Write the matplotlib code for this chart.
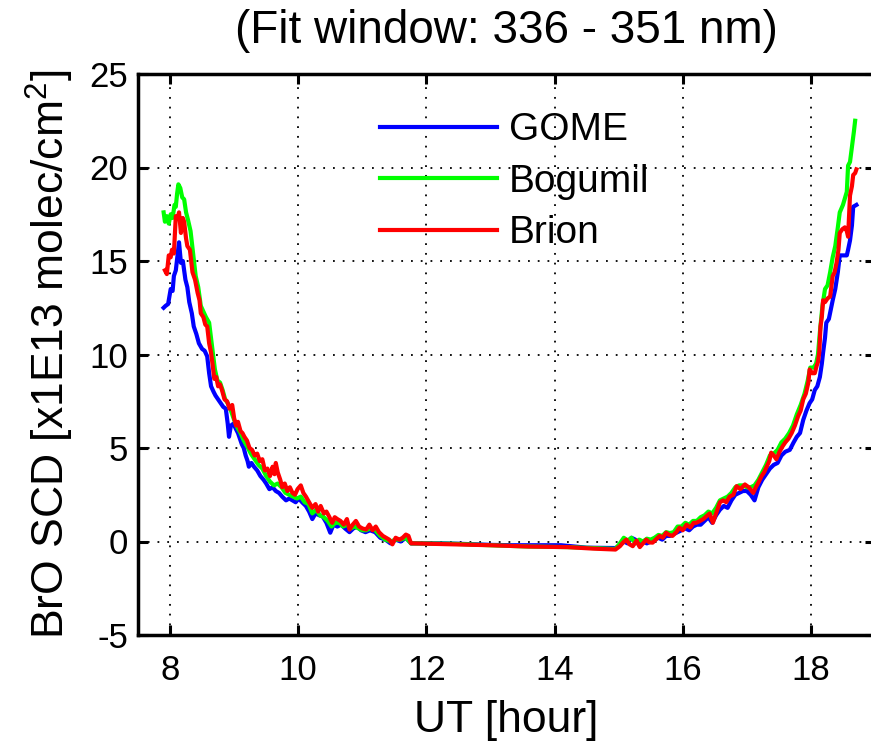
import numpy as np
import matplotlib
matplotlib.use("Agg")
import matplotlib.pyplot as plt

plt.rcParams['font.family'] = ['Liberation Sans', 'DejaVu Sans']
plt.rcParams['mathtext.fontset'] = 'custom'
plt.rcParams['mathtext.rm'] = 'Liberation Sans'
plt.rcParams['axes.unicode_minus'] = False

# --- slant column densities [x1E13 molec/cm2] vs UT [hour] ---
t_gome = [7.90, 7.93, 7.97, 7.99, 8.01, 8.04, 8.06, 8.09, 8.12, 8.14, 8.17, 8.20, 8.24, 8.27,
          8.30, 8.34, 8.37, 8.41, 8.45, 8.50, 8.54, 8.58, 8.61, 8.64, 8.68, 8.71, 8.75, 8.79,
          8.83, 8.87, 8.90, 8.92, 8.95, 8.99, 9.03, 9.06, 9.08, 9.12, 9.15, 9.18, 9.21, 9.23,
          9.27, 9.31, 9.36, 9.41, 9.46, 9.50, 9.55, 9.60, 9.65, 9.70, 9.75, 9.81, 9.86, 9.91,
          9.96, 10.01, 10.06, 10.12, 10.17, 10.22, 10.27, 10.33, 10.38, 10.44, 10.50, 10.55,
          10.61, 10.67, 10.73, 10.80, 10.86, 10.92, 10.98, 11.05, 11.12, 11.20, 11.28, 11.36,
          11.44, 11.52, 11.60, 11.68, 11.76, 12.25, 12.50, 13.00, 13.35, 14.10, 14.50, 14.95,
          15.02, 15.08, 15.14, 15.20, 15.26, 15.32, 15.38, 15.44, 15.50, 15.56, 15.62, 15.68,
          15.74, 15.80, 15.86, 15.92, 15.98, 16.04, 16.10, 16.16, 16.22, 16.28, 16.34, 16.40,
          16.46, 16.52, 16.58, 16.64, 16.70, 16.76, 16.82, 16.88, 16.94, 17.00, 17.06, 17.12,
          17.18, 17.24, 17.30, 17.36, 17.42, 17.48, 17.54, 17.60, 17.67, 17.73, 17.78, 17.83,
          17.88, 17.93, 17.98, 18.02, 18.06, 18.10, 18.14, 18.17, 18.19, 18.22, 18.24, 18.28,
          18.31, 18.34, 18.38, 18.42, 18.45, 18.50, 18.56, 18.58, 18.61, 18.64, 18.66, 18.71]
scd_gome = [12.5, 12.6, 12.7, 13.1, 13.5, 13.4, 14.2, 14.5, 15.4, 16.0, 14.9, 15.0, 14.0, 13.6,
            12.8, 12.2, 11.5, 11.1, 10.6, 10.3, 10.2, 9.9, 9.0, 8.3, 8.0, 7.8, 7.6, 7.4,
            7.2, 7.1, 6.3, 5.6, 6.2, 6.3, 6.0, 5.8, 5.6, 5.2, 5.0, 4.6, 4.3, 4.0,
            4.2, 4.0, 3.8, 3.5, 3.3, 3.1, 2.8, 2.9, 2.7, 2.6, 2.4, 2.2, 2.3, 2.2,
            2.1, 2.3, 2.1, 1.9, 1.6, 1.2, 1.5, 1.4, 1.35, 1.0, 0.47, 0.9,
            0.8, 0.9, 0.7, 0.5, 0.7, 0.8, 0.6, 0.5, 0.6, 0.5, 0.2, 0.1,
            -0.1, 0.1, 0.0, 0.2, -0.1, -0.1, -0.12, -0.18, -0.2, -0.2, -0.33, -0.35,
            -0.2, 0.0, -0.1, 0.2, 0.1, -0.2, 0.0, -0.1, 0.0, 0.1, 0.2, 0.1,
            0.3, 0.3, 0.4, 0.5, 0.6, 0.7, 0.6, 0.8, 0.9, 0.9, 1.1, 1.3,
            1.0, 1.4, 1.7, 1.9, 1.8, 2.2, 2.5, 2.6, 2.7, 2.7, 2.5, 2.2,
            2.9, 3.3, 3.6, 3.9, 4.1, 4.2, 4.6, 4.8, 4.9, 5.3, 5.6, 5.8,
            6.5, 7.0, 7.4, 7.6, 8.1, 8.3, 8.8, 9.5, 10.1, 10.9, 11.7, 11.9,
            12.4, 12.9, 13.5, 14.4, 15.3, 15.3, 15.3, 15.6, 16.1, 16.9, 17.9, 18.0]

t_bogumil = [7.90, 7.92, 7.95, 7.98, 8.01, 8.04, 8.07, 8.09, 8.11, 8.13, 8.16, 8.19, 8.22, 8.25,
             8.28, 8.32, 8.36, 8.40, 8.44, 8.48, 8.52, 8.56, 8.61, 8.66, 8.70, 8.74, 8.78, 8.82,
             8.86, 8.90, 8.95, 9.00, 9.05, 9.10, 9.15, 9.20, 9.26, 9.32, 9.38, 9.44, 9.50, 9.56,
             9.62, 9.68, 9.74, 9.80, 9.86, 9.92, 9.98, 10.04, 10.10, 10.16, 10.22, 10.28, 10.34,
             10.40, 10.46, 10.52, 10.58, 10.64, 10.70, 10.76, 10.82, 10.88, 10.94, 11.00, 11.06,
             11.12, 11.20, 11.28, 11.36, 11.44, 11.52, 11.60, 11.68, 11.76, 12.40, 13.00, 13.60,
             14.20, 14.60, 14.95, 15.02, 15.08, 15.14, 15.20, 15.26, 15.32, 15.38, 15.44, 15.50,
             15.56, 15.62, 15.68, 15.74, 15.80, 15.86, 15.92, 15.98, 16.04, 16.10, 16.16, 16.22,
             16.28, 16.34, 16.40, 16.46, 16.52, 16.58, 16.64, 16.70, 16.76, 16.82, 16.88, 16.94,
             17.00, 17.06, 17.12, 17.18, 17.24, 17.30, 17.36, 17.42, 17.48, 17.54, 17.60, 17.66,
             17.72, 17.78, 17.84, 17.90, 17.95, 17.99, 18.04, 18.08, 18.11, 18.14, 18.18, 18.22,
             18.26, 18.30, 18.34, 18.38, 18.42, 18.45, 18.50, 18.56, 18.58, 18.61, 18.64, 18.67,
             18.69]
scd_bogumil = [17.6, 17.1, 17.4, 17.0, 17.5, 17.3, 18.0, 17.9, 18.6, 19.1, 18.9, 18.4, 18.3, 17.6,
               17.2, 16.6, 15.4, 14.2, 13.6, 12.6, 12.3, 12.0, 11.7, 10.3, 9.2, 8.6, 8.5, 8.1,
               7.6, 7.4, 7.0, 6.5, 6.1, 5.8, 5.4, 5.1, 4.7, 4.4, 4.1, 3.9, 3.5, 3.2,
               3.0, 3.1, 2.9, 2.6, 2.5, 2.4, 2.3, 2.4, 2.1, 2.0, 1.5, 1.7, 1.4,
               1.3, 1.1, 0.8, 1.0, 1.0, 0.8, 0.9, 0.7, 0.8, 0.7, 0.6, 0.6,
               0.7, 0.6, 0.3, 0.1, 0.0, 0.1, 0.1, 0.2, -0.1, -0.12, -0.2, -0.27,
               -0.3, -0.35, -0.4, -0.1, 0.2, 0.05, 0.2, -0.1, 0.1, 0.0, 0.15, 0.1,
               0.2, 0.35, 0.3, 0.5, 0.45, 0.5, 0.8, 0.8, 1.0, 0.9, 1.1, 1.1,
               1.3, 1.4, 1.6, 1.5, 1.8, 2.2, 2.3, 2.4, 2.6, 2.9, 3.0, 3.0,
               2.9, 2.9, 3.0, 3.3, 3.7, 4.1, 4.6, 4.7, 4.9, 5.3, 5.5, 5.8,
               6.2, 6.8, 7.3, 7.9, 8.6, 9.3, 9.3, 9.5, 10.0, 11.2, 12.6, 13.5,
               13.7, 14.4, 15.2, 15.8, 16.8, 17.6, 18.0, 18.7, 20.1, 20.3, 21.1, 21.9,
               22.5]

t_brion = [7.92, 7.95, 7.98, 8.01, 8.03, 8.06, 8.09, 8.12, 8.14, 8.17, 8.20, 8.22, 8.25, 8.27,
           8.31, 8.35, 8.39, 8.43, 8.46, 8.48, 8.52, 8.55, 8.58, 8.61, 8.64, 8.67, 8.69, 8.72,
           8.75, 8.78, 8.81, 8.85, 8.89, 8.93, 8.97, 9.00, 9.03, 9.06, 9.10, 9.13, 9.16, 9.20,
           9.24, 9.28, 9.32, 9.36, 9.40, 9.44, 9.48, 9.52, 9.56, 9.60, 9.63, 9.65, 9.68, 9.72,
           9.75, 9.79, 9.83, 9.87, 9.91, 9.95, 9.99, 10.04, 10.08, 10.12, 10.17, 10.22, 10.27,
           10.31, 10.35, 10.40, 10.44, 10.48, 10.53, 10.57, 10.61, 10.66, 10.71, 10.76, 10.80,
           10.85, 10.90, 10.95, 11.00, 11.06, 11.11, 11.16, 11.21, 11.26, 11.32, 11.37, 11.42,
           11.47, 11.52, 11.58, 11.63, 11.68, 11.72, 11.76, 11.80, 12.40, 13.00, 13.60, 14.20,
           14.60, 14.95, 15.02, 15.07, 15.12, 15.17, 15.22, 15.28, 15.33, 15.38, 15.43, 15.48,
           15.53, 15.58, 15.64, 15.69, 15.74, 15.79, 15.84, 15.90, 15.95, 16.00, 16.06, 16.12,
           16.17, 16.21, 16.27, 16.32, 16.37, 16.42, 16.47, 16.53, 16.58, 16.63, 16.68, 16.73,
           16.79, 16.84, 16.90, 16.97, 17.03, 17.10, 17.14, 17.18, 17.23, 17.27, 17.31, 17.35,
           17.38, 17.42, 17.46, 17.51, 17.56, 17.60, 17.65, 17.70, 17.75, 17.80, 17.84, 17.88,
           17.92, 17.96, 17.98, 18.02, 18.06, 18.09, 18.11, 18.13, 18.15, 18.17, 18.19, 18.22,
           18.26, 18.30, 18.34, 18.37, 18.40, 18.43, 18.45, 18.49, 18.53, 18.56, 18.58, 18.61,
           18.64, 18.66, 18.69, 18.71]
scd_brion = [14.5, 14.3, 15.3, 15.2, 15.6, 15.4, 17.4, 17.3, 17.6, 16.5, 17.3, 17.1, 16.2, 15.8,
             15.6, 14.4, 14.0, 13.3, 12.9, 12.2, 12.0, 11.6, 11.5, 10.6, 10.1, 9.3, 8.7, 8.8,
             8.3, 8.4, 8.1, 7.6, 7.5, 7.1, 7.3, 6.6, 6.2, 6.4, 5.9, 5.8, 5.6, 5.4,
             5.0, 4.9, 4.6, 4.7, 4.3, 4.4, 3.8, 3.9, 3.5, 4.0, 3.6, 4.2, 3.7, 3.3,
             2.9, 3.1, 2.7, 2.9, 2.6, 2.5, 2.8, 3.0, 2.6, 2.4, 2.1, 1.8, 2.0,
             1.6, 1.9, 1.5, 1.6, 1.35, 1.0, 1.3, 1.2, 1.1, 0.9, 1.2, 0.64,
             0.9, 1.1, 0.8, 0.7, 0.64, 0.9, 0.6, 0.8, 0.5, 0.3, 0.2, 0.1,
             -0.15, 0.2, 0.1, 0.2, 0.37, 0.3, -0.1, -0.1, -0.15, -0.2, -0.27, -0.3,
             -0.38, -0.43, -0.25, -0.05, 0.1, -0.15, -0.25, 0.05, -0.3, -0.1, 0.1, -0.05,
             -0.06, 0.1, 0.3, 0.2, 0.47, 0.35, 0.3, 0.5, 0.74, 0.6, 0.9, 0.75,
             1.0, 1.0, 1.1, 1.2, 1.35, 1.5, 1.0, 1.6, 2.1, 2.2, 2.1, 2.4,
             2.5, 2.96, 2.8, 3.05, 2.9, 2.6, 2.9, 3.15, 3.5, 3.7, 4.0, 4.3,
             4.75, 4.6, 4.4, 4.8, 5.1, 5.3, 5.5, 5.8, 6.2, 6.7, 7.0, 7.6,
             7.9, 8.5, 9.2, 9.0, 9.0, 9.4, 9.6, 10.1, 11.5, 12.0, 12.9, 12.8,
             13.0, 13.1, 14.2, 14.4, 14.9, 15.6, 16.5, 16.7, 16.8, 16.6, 16.3, 18.5,
             19.0, 19.6, 19.7, 19.9]

x_ticks = [8, 10, 12, 14, 16, 18]
y_ticks = [-5, 0, 5, 10, 15, 20, 25]

fig = plt.figure(figsize=(8.71, 7.47), dpi=100)
ax = fig.add_axes([138 / 871, 112 / 747, 737 / 871, 561 / 747])

ax.plot(t_gome, scd_gome, color=(0, 0, 1), lw=3.0, label='GOME')
ax.plot(t_bogumil, scd_bogumil, color=(0, 1, 0), lw=3.0, label='Bogumil')
ax.plot(t_brion, scd_brion, color=(1, 0, 0), lw=3.0, label='Brion')

ax.set_xlim(7.5, 19)
ax.set_ylim(-5, 25)
ax.set_xticks(x_ticks)
ax.set_yticks(y_ticks)
ax.grid(True, color='black', linestyle=(0, (1, 4.4)), linewidth=1.3)
ax.set_axisbelow(True)

for s in ax.spines.values():
    s.set_linewidth(2.5)
ax.tick_params(direction='in', top=True, right=True, length=7, width=2.2,
               labelsize=25)
ax.tick_params(axis='x', pad=14)
ax.tick_params(axis='y', pad=7)

ax.set_xlabel('UT [hour]', fontsize=32, labelpad=9)
ax.set_ylabel(r'BrO SCD [x1E13 molec/cm$^{\mathregular{2}}$]', fontsize=32, labelpad=10)
ax.set_title('(Fit window: 336 - 351 nm)', fontsize=33, pad=22)

ax.legend(loc='upper left', bbox_to_anchor=(0.329, 0.932), frameon=False, fontsize=28,
          handlelength=3.0, handletextpad=0.3, labelspacing=0.4, borderpad=0,
          borderaxespad=0)

fig.savefig('out.png', dpi=100)
